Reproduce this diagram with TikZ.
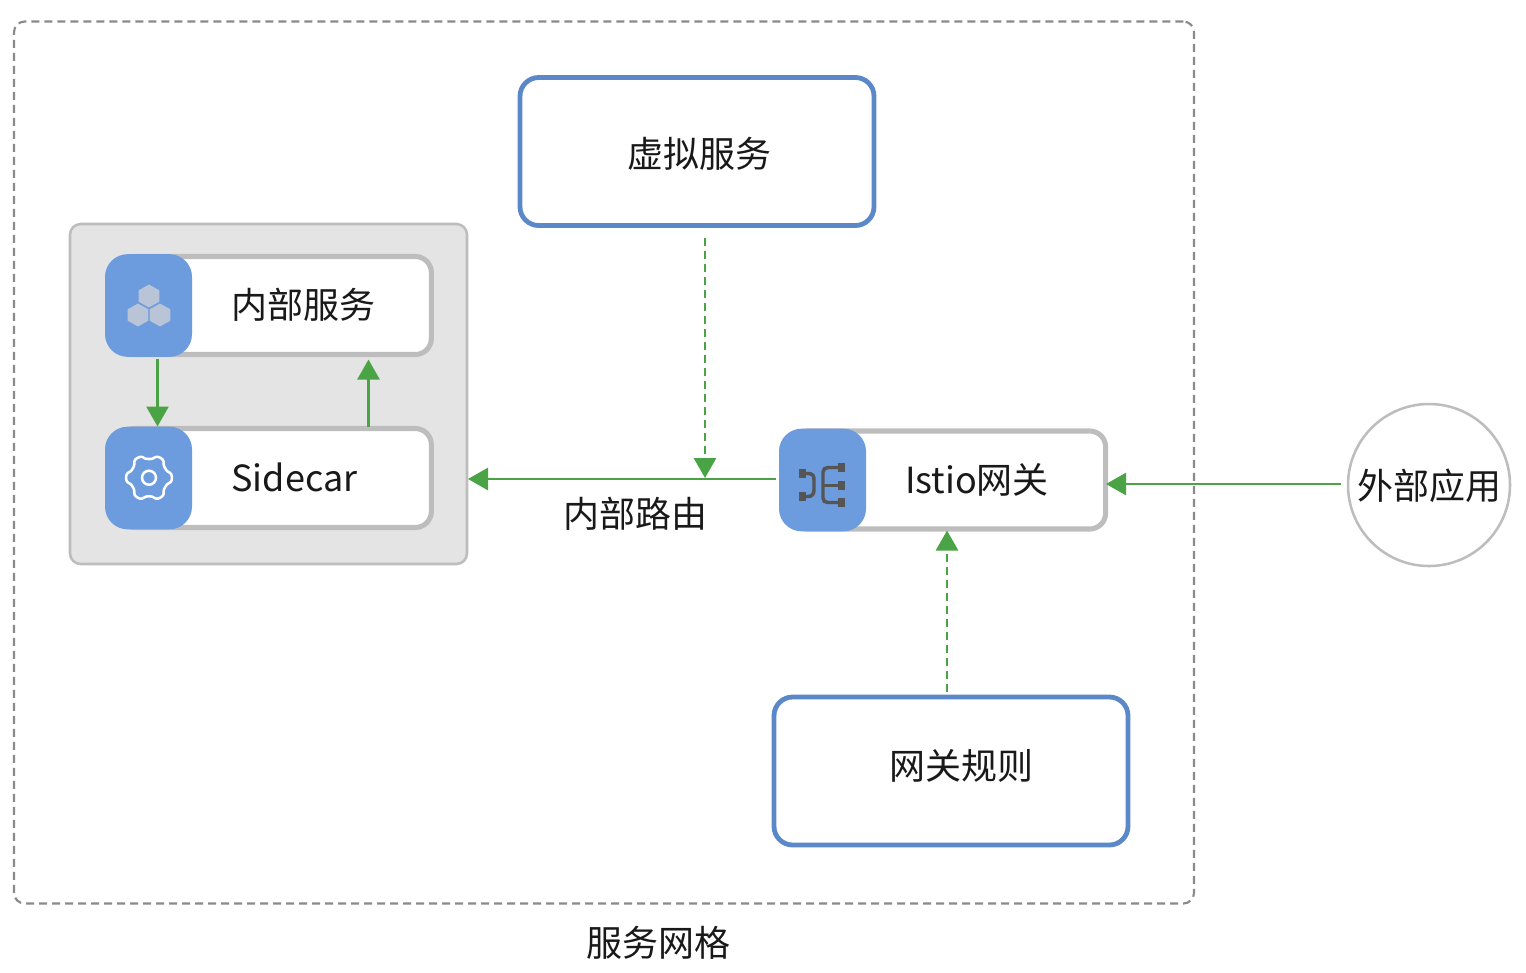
\documentclass[tikz,border=0pt]{standalone}
\usepackage{fontspec}
\setmainfont{Noto Sans CJK SC}
\usetikzlibrary{arrows.meta}
\definecolor{flowgreen}{HTML}{4AA345}
\definecolor{boxblue}{HTML}{5B88C8}
\definecolor{tabblue}{HTML}{6C9BDE}
\definecolor{edgegray}{HTML}{BDBDBD}
\definecolor{panelgray}{HTML}{E4E4E4}
\definecolor{dashgray}{HTML}{8A8A8A}
\definecolor{hexfill}{HTML}{B9C4D6}
\definecolor{iconink}{HTML}{555555}
\tikzset{
  x=0.75pt,y=-0.75pt,
  every node/.style={inner sep=0pt,outer sep=0pt},
  lab/.style={font=\fontsize{27pt}{30pt}\selectfont,text=black!90},
  configbox/.style={draw=boxblue,line width=3.6pt,fill=white,rounded corners=14pt,minimum width=265.5pt,minimum height=111pt},
  svcbox/.style={draw=edgegray,line width=3.8pt,fill=white,rounded corners=12pt},
  tabbox/.style={fill=tabblue,rounded corners=17pt,minimum width=65.25pt,minimum height=77pt},
  flow/.style={draw=flowgreen,line width=2.1pt,-{Triangle[length=15pt,width=16.5pt]}},
  dflow/.style={flow,dash pattern=on 6pt off 3.75pt},
  iconline/.style={draw=iconink,line width=2.6pt},
  iconsq/.style={fill=iconink,minimum width=5.5pt,minimum height=7pt},
}
\begin{document}
\begin{tikzpicture}
\useasboundingbox (0,0) rectangle (1526,972);
\fill[white] (0,0) rectangle (1526,972);

% mesh boundary
\node[draw=dashgray,line width=1.6pt,dash pattern=on 6pt off 3.75pt,rounded corners=8pt,minimum width=885pt,minimum height=661.5pt] (mesh) at (604,462.5) {};
\node[lab] (meshlab) at (658,942.5) {服务网格};

% pod panel
\node[draw=edgegray,line width=1.9pt,fill=panelgray,rounded corners=8pt,minimum width=297.75pt,minimum height=255pt] (pod) at (268.5,394) {};

% internal service
\node[svcbox,minimum width=234.5pt,minimum height=73.5pt] (svc) at (275,305.5) {};
\node[tabbox] (svctab) at (148.5,305.5) {};
\node[lab] (svclab) at (303,305) {内部服务};
\foreach \cx/\cy in {149/296,138/315,160/315}{
  \fill[hexfill,draw=tabblue,line width=0.5pt] (\cx,\cy-12) -- (\cx+10.8,\cy-6) -- (\cx+10.8,\cy+6) -- (\cx,\cy+12) -- (\cx-10.8,\cy+6) -- (\cx-10.8,\cy-6) -- cycle;
}

% sidecar
\node[svcbox,minimum width=234.5pt,minimum height=74.25pt] (side) at (275,478) {};
\node[tabbox] (sidetab) at (148.5,478) {};
\node[lab,anchor=west] (sidelab) at (231.5,477.5) {Sidecar};
\draw[white,line width=1.9pt,smooth,samples=145,domain=30:390,variable=\t]
  plot ({149+(20.8+2.3*tanh(1.5*cos(6*\t)))*cos(\t)},{477.7+(20.8+2.3*tanh(1.5*cos(6*\t)))*sin(\t)}) -- cycle;
\draw[white,line width=1.9pt] (149,477.7) circle[radius=7];

% gateway
\node[svcbox,minimum width=235.75pt,minimum height=73.5pt] (gw) at (948.5,480) {};
\node[tabbox] (gwtab) at (822.5,480) {};
\node[lab] (gwlab) at (977,480) {Istio网关};
\node[iconsq] (sqa) at (802.5,473.5) {};
\node[iconsq] (sqb) at (802.5,496.5) {};
\node[iconsq] (sqc) at (841.5,467.5) {};
\node[iconsq] (sqd) at (841.5,485.5) {};
\node[iconsq] (sqe) at (841.5,502.5) {};
\draw[iconline] (sqa.center) -- (808,473.5) .. controls (813,473.5) and (814,476) .. (814,480) -- (814,490) .. controls (814,494) and (812,496.5) .. (808,496.5) -- (sqb.center);
\draw[iconline] (sqc.center) -- (828,467.5) .. controls (825,467.5) and (823,469.5) .. (823,472) -- (823,498) .. controls (823,501) and (825,502.5) .. (828,502.5) -- (sqe.center);
\draw[iconline] (823,485.5) -- (sqd.center);

% config boxes
\node[configbox] (vs) at (697,151.5) {};
\node[lab] (vslab) at (699,154) {虚拟服务};
\node[configbox] (rule) at (951,771) {};
\node[lab] (rulelab) at (961,766) {网关规则};

% external
\node[draw=edgegray,line width=1.9pt,fill=white,circle,minimum size=121.5pt] (ext) at (1429,485) {};
\node[lab] (extlab) at (1429,486) {外部应用};

\node[lab] (routelab) at (635,514) {内部路由};

% connector ends
\coordinate (a1) at (157.5,359);
\coordinate (a2) at (157.5,426.5);
\coordinate (b1) at (368.5,427);
\coordinate (b2) at (368.5,359.5);
\coordinate (c1) at (776,479);
\coordinate (c2) at (468,479);
\coordinate (d1) at (705,238);
\coordinate (d2) at (705,478);
\coordinate (e1) at (947,692);
\coordinate (e2) at (947,530.5);
\coordinate (f1) at (1341,484);
\coordinate (f2) at (1106,484);
\draw[flow] (a1) -- (a2);
\draw[flow] (b1) -- (b2);
\draw[flow] (c1) -- (c2);
\draw[dflow] (d1) -- (d2);
\draw[dflow] (e1) -- (e2);
\draw[flow] (f1) -- (f2);
\end{tikzpicture}
\end{document}
